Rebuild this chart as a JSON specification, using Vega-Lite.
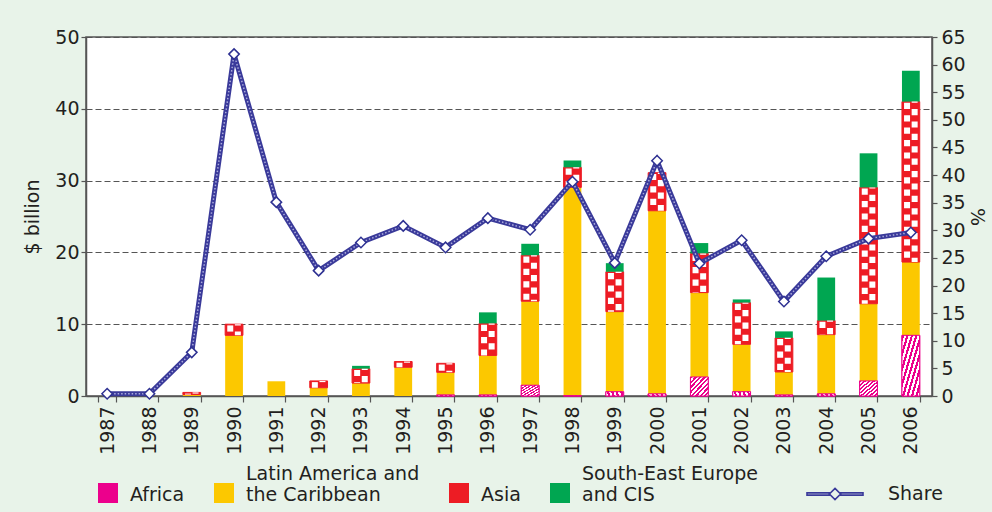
{
  "$schema": "https://vega.github.io/schema/vega-lite/v6.json",
  "width": 846,
  "height": 359,
  "autosize": {"type": "none"},
  "padding": {"left": 86, "top": 37, "right": 60, "bottom": 116},
  "background": "#e8f3e9",
  "config": {
    "font": "DejaVu Sans",
    "view": {"fill": "white", "stroke": "#555555", "strokeWidth": 1.5},
    "axis": {
      "labelFont": "DejaVu Sans",
      "labelFontSize": 19,
      "labelColor": "#231f20",
      "titleFont": "DejaVu Sans",
      "titleFontSize": 19,
      "titleFontWeight": "normal",
      "titleColor": "#231f20",
      "domainColor": "#555555",
      "domainWidth": 1.5,
      "tickColor": "#555555",
      "tickWidth": 1.2
    },
    "legend": {
      "labelFont": "DejaVu Sans",
      "labelFontSize": 19,
      "labelColor": "#231f20",
      "padding": 0
    }
  },
  "datasets": {
    "bars": [
      {"year": "1989", "region": "Latin America and the Caribbean", "value": 0.2},
      {"year": "1989", "region": "Asia", "value": 0.3},
      {"year": "1990", "region": "Latin America and the Caribbean", "value": 8.45},
      {"year": "1990", "region": "Asia", "value": 1.55},
      {"year": "1991", "region": "Latin America and the Caribbean", "value": 2.05},
      {"year": "1992", "region": "Latin America and the Caribbean", "value": 1.15},
      {"year": "1992", "region": "Asia", "value": 0.95},
      {"year": "1993", "region": "Latin America and the Caribbean", "value": 1.8},
      {"year": "1993", "region": "Asia", "value": 2.0},
      {"year": "1993", "region": "South-East Europe and CIS", "value": 0.4},
      {"year": "1994", "region": "Latin America and the Caribbean", "value": 4.0},
      {"year": "1994", "region": "Asia", "value": 0.8},
      {"year": "1995", "region": "Africa", "value": 0.15},
      {"year": "1995", "region": "Latin America and the Caribbean", "value": 3.15},
      {"year": "1995", "region": "Asia", "value": 1.25},
      {"year": "1996", "region": "Africa", "value": 0.15},
      {"year": "1996", "region": "Latin America and the Caribbean", "value": 5.5},
      {"year": "1996", "region": "Asia", "value": 4.45},
      {"year": "1996", "region": "South-East Europe and CIS", "value": 1.55},
      {"year": "1997", "region": "Africa", "value": 1.5},
      {"year": "1997", "region": "Latin America and the Caribbean", "value": 11.7},
      {"year": "1997", "region": "Asia", "value": 6.4},
      {"year": "1997", "region": "South-East Europe and CIS", "value": 1.6},
      {"year": "1998", "region": "Africa", "value": 0.05},
      {"year": "1998", "region": "Latin America and the Caribbean", "value": 29.0},
      {"year": "1998", "region": "Asia", "value": 2.8},
      {"year": "1998", "region": "South-East Europe and CIS", "value": 0.95},
      {"year": "1999", "region": "Africa", "value": 0.6},
      {"year": "1999", "region": "Latin America and the Caribbean", "value": 11.15},
      {"year": "1999", "region": "Asia", "value": 5.55},
      {"year": "1999", "region": "South-East Europe and CIS", "value": 1.2},
      {"year": "2000", "region": "Africa", "value": 0.3},
      {"year": "2000", "region": "Latin America and the Caribbean", "value": 25.5},
      {"year": "2000", "region": "Asia", "value": 5.3},
      {"year": "2001", "region": "Africa", "value": 2.65},
      {"year": "2001", "region": "Latin America and the Caribbean", "value": 11.75},
      {"year": "2001", "region": "Asia", "value": 5.45},
      {"year": "2001", "region": "South-East Europe and CIS", "value": 1.45},
      {"year": "2002", "region": "Africa", "value": 0.6},
      {"year": "2002", "region": "Latin America and the Caribbean", "value": 6.6},
      {"year": "2002", "region": "Asia", "value": 5.8},
      {"year": "2002", "region": "South-East Europe and CIS", "value": 0.45},
      {"year": "2003", "region": "Africa", "value": 0.15},
      {"year": "2003", "region": "Latin America and the Caribbean", "value": 3.2},
      {"year": "2003", "region": "Asia", "value": 4.75},
      {"year": "2003", "region": "South-East Europe and CIS", "value": 0.9},
      {"year": "2004", "region": "Africa", "value": 0.3},
      {"year": "2004", "region": "Latin America and the Caribbean", "value": 8.25},
      {"year": "2004", "region": "Asia", "value": 1.95},
      {"year": "2004", "region": "South-East Europe and CIS", "value": 6.0},
      {"year": "2005", "region": "Africa", "value": 2.1},
      {"year": "2005", "region": "Latin America and the Caribbean", "value": 10.75},
      {"year": "2005", "region": "Asia", "value": 16.2},
      {"year": "2005", "region": "South-East Europe and CIS", "value": 4.75},
      {"year": "2006", "region": "Africa", "value": 8.45},
      {"year": "2006", "region": "Latin America and the Caribbean", "value": 10.2},
      {"year": "2006", "region": "Asia", "value": 22.35},
      {"year": "2006", "region": "South-East Europe and CIS", "value": 4.3}
    ],
    "share": [
      {"year": "1987", "share": 0.4},
      {"year": "1988", "share": 0.4},
      {"year": "1989", "share": 7.9},
      {"year": "1990", "share": 61.9},
      {"year": "1991", "share": 35.1},
      {"year": "1992", "share": 22.7},
      {"year": "1993", "share": 27.8},
      {"year": "1994", "share": 30.8},
      {"year": "1995", "share": 26.9},
      {"year": "1996", "share": 32.2},
      {"year": "1997", "share": 30.1},
      {"year": "1998", "share": 38.8},
      {"year": "1999", "share": 24.1},
      {"year": "2000", "share": 42.6},
      {"year": "2001", "share": 24.0},
      {"year": "2002", "share": 28.2},
      {"year": "2003", "share": 17.1},
      {"year": "2004", "share": 25.3},
      {"year": "2005", "share": 28.5},
      {"year": "2006", "share": 29.6}
    ]
  },
  "layer": [
    {
      "data": {"name": "bars"},
      "transform": [
        {"stack": "value", "groupby": ["year"], "as": ["v0", "v1"]}
      ],
      "layer": [
        {
          "mark": {"type": "bar", "strokeWidth": 1},
          "encoding": {
            "x": {
              "field": "year",
              "type": "ordinal",
              "scale": {
                "domain": ["1987", "1988", "1989", "1990", "1991", "1992", "1993", "1994", "1995", "1996", "1997", "1998", "1999", "2000", "2001", "2002", "2003", "2004", "2005", "2006"],
                "paddingInner": 0.58,
                "paddingOuter": 0.29
              },
              "axis": {
                "title": null,
                "labelAngle": -90,
                "labelAlign": "right",
                "labelBaseline": "middle",
                "tickBand": "extent",
                "tickSize": 6,
                "labelPadding": 4,
                "grid": false
              }
            },
            "y": {
              "field": "v1",
              "type": "quantitative",
              "scale": {"domain": [0, 50], "nice": false},
              "axis": {
                "title": "$ billion",
                "values": [0, 5, 10, 15, 20, 25, 30, 35, 40, 45, 50],
                "grid": true,
                "gridDash": [6, 3],
                "gridColor": "#555555",
                "gridWidth": 1,
                "tickSize": 5,
                "labelPadding": 2,
                "titlePadding": 12
              }
            },
            "y2": {"field": "v0"},
            "fill": {
              "field": "region",
              "type": "nominal",
              "scale": {
                "domain": ["Africa", "Latin America and the Caribbean", "Asia", "South-East Europe and CIS"],
                "range": ["#ec008c", "#fcc800", "#ed1c24", "#00a651"]
              },
              "legend": {
                "title": null,
                "orient": "none",
                "legendX": 2,
                "legendY": 417,
                "direction": "horizontal",
                "symbolType": "M-0.5,0.45H0.5V1.45H-0.5Z",
                "symbolSize": 1600,
                "symbolStrokeWidth": 0,
                "symbolOpacity": 1,
                "labelOffset": 2,
                "columnPadding": 19,
                "labelLimit": 400,
                "labelBaseline": "middle",
                "labelExpr": "datum.label == 'Latin America and the Caribbean' ? ['Latin America and', 'the Caribbean'] : datum.label == 'South-East Europe and CIS' ? ['South-East Europe', 'and CIS'] : ['', datum.label]"
              }
            },
            "stroke": {
              "condition": [
                {"test": "datum.region === 'Africa'", "value": "#ec008c"},
                {"test": "datum.region === 'Asia'", "value": "#ed1c24"}
              ],
              "value": "transparent"
            }
          }
        },
        {
          "transform": [{"filter": "datum.region === 'Africa'"}],
          "mark": {
            "type": "bar",
            "stroke": "#ec008c",
            "strokeWidth": 1,
            "fill": {
              "gradient": "linear",
              "x1": 0, "y1": 0, "x2": 1, "y2": 1,
              "stops": [
                {"offset": 0, "color": "#ec008c"}, {"offset": 0.0625, "color": "#ec008c"},
                {"offset": 0.0625, "color": "#ffffff"}, {"offset": 0.125, "color": "#ffffff"},
                {"offset": 0.125, "color": "#ec008c"}, {"offset": 0.1875, "color": "#ec008c"},
                {"offset": 0.1875, "color": "#ffffff"}, {"offset": 0.25, "color": "#ffffff"},
                {"offset": 0.25, "color": "#ec008c"}, {"offset": 0.3125, "color": "#ec008c"},
                {"offset": 0.3125, "color": "#ffffff"}, {"offset": 0.375, "color": "#ffffff"},
                {"offset": 0.375, "color": "#ec008c"}, {"offset": 0.4375, "color": "#ec008c"},
                {"offset": 0.4375, "color": "#ffffff"}, {"offset": 0.5, "color": "#ffffff"},
                {"offset": 0.5, "color": "#ec008c"}, {"offset": 0.5625, "color": "#ec008c"},
                {"offset": 0.5625, "color": "#ffffff"}, {"offset": 0.625, "color": "#ffffff"},
                {"offset": 0.625, "color": "#ec008c"}, {"offset": 0.6875, "color": "#ec008c"},
                {"offset": 0.6875, "color": "#ffffff"}, {"offset": 0.75, "color": "#ffffff"},
                {"offset": 0.75, "color": "#ec008c"}, {"offset": 0.8125, "color": "#ec008c"},
                {"offset": 0.8125, "color": "#ffffff"}, {"offset": 0.875, "color": "#ffffff"},
                {"offset": 0.875, "color": "#ec008c"}, {"offset": 0.9375, "color": "#ec008c"},
                {"offset": 0.9375, "color": "#ffffff"}, {"offset": 1, "color": "#ffffff"}
              ]
            }
          },
          "encoding": {
            "x": {"field": "year", "type": "ordinal"},
            "y": {"field": "v1", "type": "quantitative"},
            "y2": {"field": "v0"}
          }
        },
        {
          "transform": [{"filter": "datum.region === 'Asia'"}],
          "mark": {"type": "rule", "stroke": "white", "strokeWidth": 6, "strokeDash": [6.2, 6.2], "strokeDashOffset": 11.2, "xOffset": -3.8},
          "encoding": {
            "x": {"field": "year", "type": "ordinal"},
            "y": {"field": "v1", "type": "quantitative"},
            "y2": {"field": "v0"}
          }
        },
        {
          "transform": [{"filter": "datum.region === 'Asia'"}],
          "mark": {"type": "rule", "stroke": "white", "strokeWidth": 6, "strokeDash": [6.2, 6.2], "strokeDashOffset": 5.0, "xOffset": 3.8},
          "encoding": {
            "x": {"field": "year", "type": "ordinal"},
            "y": {"field": "v1", "type": "quantitative"},
            "y2": {"field": "v0"}
          }
        }
      ]
    },
    {
      "data": {"name": "share"},
      "encoding": {
        "x": {"field": "year", "type": "ordinal"},
        "y": {
          "field": "share",
          "type": "quantitative",
          "scale": {"domain": [0, 65], "nice": false},
          "axis": {
            "orient": "right",
            "title": "%",
            "values": [0, 5, 10, 15, 20, 25, 30, 35, 40, 45, 50, 55, 60, 65],
            "grid": false,
            "tickSize": 5,
            "labelPadding": 4,
            "titlePadding": 1
          }
        }
      },
      "layer": [
        {
          "mark": {"type": "line", "strokeWidth": 5},
          "encoding": {
            "stroke": {
              "datum": "Share",
              "scale": {"range": ["#3a3a9a"]},
              "legend": {
                "title": null,
                "orient": "none",
                "legendX": 720,
                "legendY": 428,
                "symbolType": "M-1,-0.04H-0.2V0.04H-1Z M0.2,-0.04H1V0.04H0.2Z M0,-0.2L0.2,0L0,0.2L-0.2,0Z",
                "symbolSize": 3136,
                "symbolStrokeWidth": 1.6,
                "labelOffset": 24
              }
            }
          }
        },
        {
          "mark": {"type": "line", "strokeWidth": 1.5, "strokeDash": [1.5, 2], "color": "#c8c8ee", "opacity": 0.8},
          "encoding": {}
        },
        {
          "mark": {"type": "point", "shape": "diamond", "filled": true, "fill": "white", "stroke": "#2e3192", "strokeWidth": 1.5, "size": 110, "opacity": 1},
          "encoding": {}
        }
      ]
    }
  ],
  "resolve": {"scale": {"y": "independent"}}
}
